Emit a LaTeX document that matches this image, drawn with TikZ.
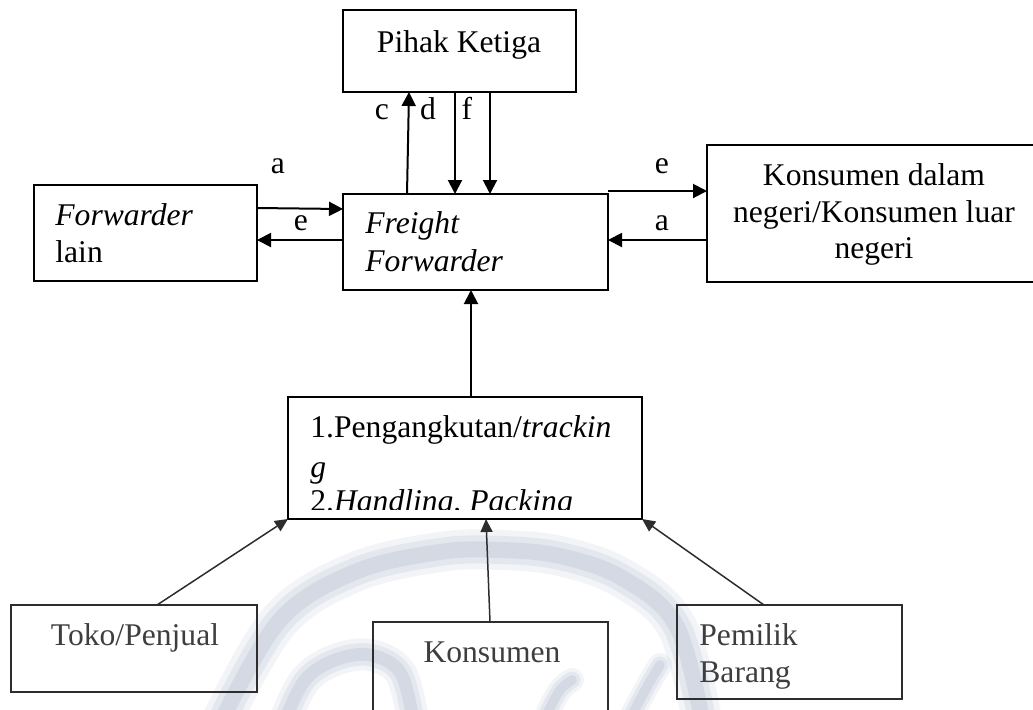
\documentclass[tikz,border=0pt]{standalone}
\usepackage{fontspec}
\setmainfont{Liberation Serif}
\usetikzlibrary{arrows.meta}
\definecolor{wm}{RGB}{150,162,190}
\definecolor{bottomtext}{RGB}{62,62,62}
\definecolor{bottomline}{RGB}{45,45,45}
\begin{document}
\begin{tikzpicture}[x=0.5pt,y=-0.5pt,
  box/.style={draw, line width=1pt, inner sep=0pt, outer sep=0pt, rectangle},
  bbox/.style={draw=bottomline, line width=0.8pt, inner sep=0pt, outer sep=0pt, rectangle},
  txt/.style={inner sep=0pt, anchor=base west, font=\fontsize{15.8}{19}\selectfont},
  ctxt/.style={inner sep=0pt, anchor=base, font=\fontsize{15.8}{19}\selectfont},
  btxt/.style={txt, text=bottomtext},
  bctxt/.style={ctxt, text=bottomtext},
  arr/.style={line width=1pt, -{Triangle[length=7pt,width=7pt]}},
  barr/.style={line width=0.75pt, draw=bottomline, -{Triangle[length=6.5pt,width=6pt]}},
  wmline/.style={draw=wm, line cap=round, line join=round}
]
\useasboundingbox (0,0) rectangle (1033,709);

% watermark (faint background swirl)
\foreach \w/\o in {40/0.12,28/0.16,16/0.2}{
  \draw[wmline, line width=\w*0.5pt, opacity=\o]
    plot[smooth, tension=0.6] coordinates {(222,720) (280,620) (355,572) (440,552) (500,550) (560,556) (622,578) (676,625) (702,720)};
  \draw[wmline, line width=\w*0.4pt, opacity=\o]
    plot[smooth, tension=0.6] coordinates {(285,720) (305,680) (335,660) (370,655) (400,672) (412,715)};
  \draw[wmline, line width=\w*0.3pt, opacity=\o]
    plot[smooth, tension=0.6] coordinates {(632,715) (648,685) (660,665)};
  \draw[wmline, line width=\w*0.3pt, opacity=\o]
    plot[smooth, tension=0.6] coordinates {(548,712) (560,690) (572,680)};
}

% boxes
\node[box, minimum width=116.5pt, minimum height=41pt] (pk) at (459.5,51) {};
\node[box, minimum width=132.5pt, minimum height=48pt] (ff) at (475.5,242) {};
\node[box, minimum width=111.5pt, minimum height=48pt] (fl) at (145.5,233) {};
\node[box, minimum width=167pt, minimum height=68.5pt] (kd) at (874,213.5) {};
\node[box, minimum width=177pt, minimum height=61pt] (pr) at (465,458) {};
\node[bbox, minimum width=123pt, minimum height=43.5pt] (tk) at (134,648.5) {};
\node[bbox, minimum width=117.5pt, minimum height=69pt] (ks) at (490.5,691) {};
\node[bbox, minimum width=112.5pt, minimum height=47pt] (pb) at (789.5,652) {};

% texts
\node[ctxt] (tpk) at (459,52) {Pihak Ketiga};
\node[txt] (tff1) at (365,233) {\textit{Freight}};
\node[txt] (tff2) at (365,271) {\textit{Forwarder}};
\node[txt] (tfl1) at (55,225) {\textit{Forwarder}};
\node[txt] (tfl2) at (55,262) {lain};
\node[ctxt] (tkd1) at (874,185) {Konsumen dalam};
\node[ctxt] (tkd2) at (874,222) {negeri/Konsumen luar};
\node[ctxt] (tkd3) at (874,258) {negeri};
\begin{scope}
  \clip (289,398) rectangle (641,509);
  \node[txt] (tpr1) at (310,437) {1.Pengangkutan/\textit{trackin}};
  \node[txt] (tpr2) at (310,477) {\textit{g}};
  \node[txt] (tpr3) at (310,511) {2.\textit{Handling, Packing}};
\end{scope}
\node[bctxt] (ttk) at (135,645) {Toko/Penjual};
\node[bctxt] (tks) at (492,662) {Konsumen};
\node[btxt] (tpb1) at (699,645) {Pemilik};
\node[btxt] (tpb2) at (699,682) {Barang};

% labels
\node[ctxt] (lc) at (382,119) {c};
\node[ctxt] (ld) at (428,119) {d};
\node[ctxt] (lf) at (467,119) {f};
\node[ctxt] (la1) at (278,173) {a};
\node[ctxt] (le1) at (301,230) {e};
\node[ctxt] (le2) at (662,173) {e};
\node[ctxt] (la2) at (662,230) {a};

% connectors
\draw[arr] (ff.north -| 407,0) -- (pk.south -| 409,0);
\draw[arr] (pk.south -| 455,0) -- (ff.north -| 455,0);
\draw[arr] (pk.south -| 490,0) -- (ff.north -| 490,0);
\draw[arr] (fl.east |- 0,208) -- (ff.west |- 0,209);
\draw[arr] (ff.west |- 0,240) -- (fl.east |- 0,240);
\coordinate (es) at (608,191);
\draw[arr] (es) -- (kd.west |- es);
\draw[arr] (kd.west |- 0,240) -- (ff.east |- 0,240);
\draw[arr] (pr.north -| 471,0) -- (ff.south -| 471,0);
\draw[barr] (tk.north -| 157,0) -- (pr.south west);
\draw[barr] (ks.north -| 490,0) -- (pr.south -| 486,0);
\draw[barr] (pb.north -| 764,0) -- (pr.south east);
\end{tikzpicture}
\end{document}
